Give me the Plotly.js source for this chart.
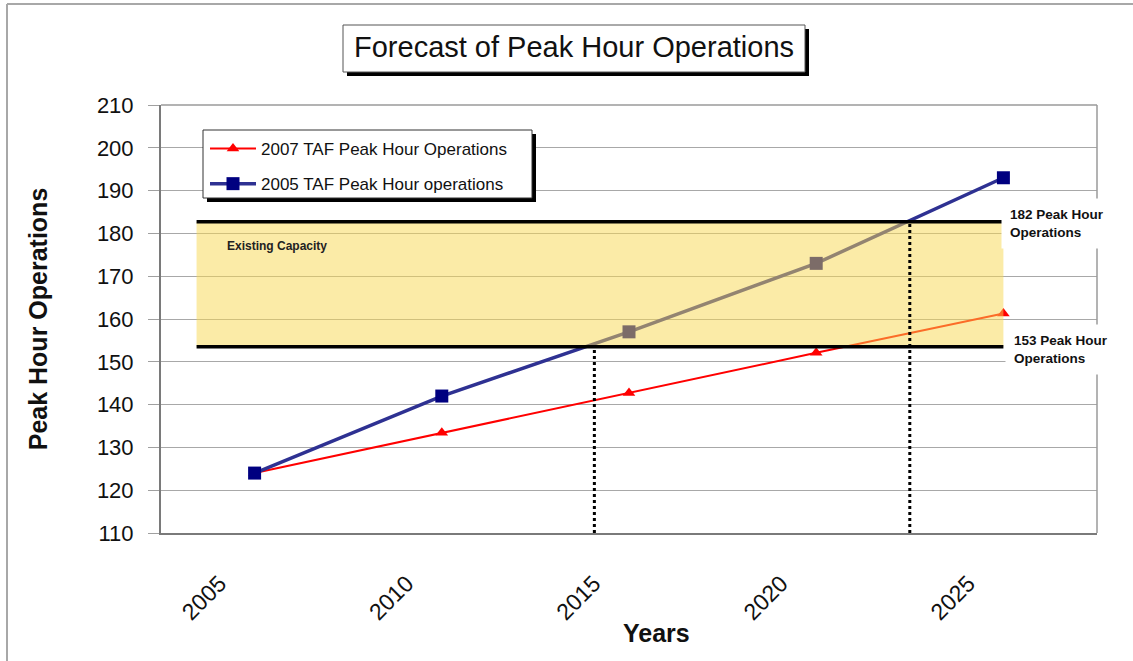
<!DOCTYPE html>
<html>
<head>
<meta charset="utf-8">
<script src="https://cdn.plot.ly/plotly-3.0.1.min.js"></script>
<style>
  html, body { margin: 0; padding: 0; background: #fff; }
  #chart { width: 1133px; height: 661px; }
</style>
</head>
<body>
<div id="chart"></div>
<script>
// ---- Data ----
var years = ['2005', '2010', '2015', '2020', '2025'];
var taf2007 = [124, 133.4, 142.7, 152.1, 161.3];
var taf2005 = [124, 142, 157, 173, 193];
var capacityLow = 153.5;
var capacityHigh = 182.7;
var crossLow = 1.815;  // category position where 2005 TAF reaches lower capacity
var crossHigh = 3.5;   // category position where 2005 TAF reaches upper capacity
var seriesNames = ['2007 TAF Peak Hour Operations', '2005 TAF Peak Hour operations'];

var FONT = 'Liberation Sans, Arial, sans-serif';

// pixel -> paper helpers (plot area: x 161..1097, y 105..533)
function px(x) { return (x - 161) / 936; }
function py(y) { return (533 - y) / 428; }

var traces = [
  {
    x: years, y: taf2007, name: seriesNames[0], type: 'scatter', mode: 'lines+markers',
    line: { color: '#FF0000', width: 2 },
    marker: { symbol: 'triangle-up', size: 11, color: '#FF0000' },
    legendgroup: 'a'
  },
  {
    x: years, y: taf2005, name: seriesNames[1], type: 'scatter', mode: 'lines+markers',
    line: { color: '#2E3192', width: 3.5 },
    marker: { symbol: 'square', size: 13, color: '#000080' },
    legendgroup: 'b'
  }
];

var shapes = [
  // outer frame (left + top)
  { type: 'line', xref: 'paper', yref: 'paper', x0: px(7), x1: px(7), y0: py(4), y1: py(661), line: { color: '#A8A8A8', width: 2 } },
  { type: 'line', xref: 'paper', yref: 'paper', x0: px(7), x1: px(1133), y0: py(4), y1: py(4), line: { color: '#A8A8A8', width: 2 } },
  // title box shadow + box
  { type: 'rect', xref: 'paper', yref: 'paper', x0: px(347), x1: px(809), y0: py(76), y1: py(29), fillcolor: '#000', line: { width: 0 } },
  { type: 'rect', xref: 'paper', yref: 'paper', x0: px(343), x1: px(805), y0: py(72), y1: py(25), fillcolor: '#fff', line: { color: '#555', width: 1 } },
  // capacity band
  { type: 'rect', xref: 'x', yref: 'y', x0: -0.31, x1: 4.0, y0: capacityLow, y1: capacityHigh, fillcolor: '#F8D850', opacity: 0.5, line: { width: 0 }, layer: 'above' },
  { type: 'line', xref: 'x', yref: 'y', x0: -0.31, x1: 4.0, y0: capacityHigh, y1: capacityHigh, line: { color: '#000', width: 3.5 }, layer: 'above' },
  { type: 'line', xref: 'x', yref: 'y', x0: -0.31, x1: 4.0, y0: capacityLow, y1: capacityLow, line: { color: '#000', width: 3.5 }, layer: 'above' },
  // dotted drop lines
  { type: 'line', xref: 'x', yref: 'y', x0: crossLow, x1: crossLow, y0: 110, y1: capacityLow, line: { color: '#000', width: 3, dash: 'dot' }, layer: 'above' },
  { type: 'line', xref: 'x', yref: 'y', x0: crossHigh, x1: crossHigh, y0: 110, y1: capacityHigh, line: { color: '#000', width: 3, dash: 'dot' }, layer: 'above' },
  // legend shadow + box
  { type: 'rect', xref: 'paper', yref: 'paper', x0: px(207), x1: px(536), y0: py(202), y1: py(134), fillcolor: '#000', line: { width: 0 }, layer: 'above' },
  { type: 'rect', xref: 'paper', yref: 'paper', x0: px(203), x1: px(532), y0: py(198), y1: py(130), fillcolor: '#fff', line: { color: '#333', width: 1 }, layer: 'above' },
  // top and right frame of plot area
  { type: 'line', xref: 'paper', yref: 'paper', x0: 0, x1: 1, y0: 1, y1: 1, line: { color: '#9A9A9A', width: 1.5 } },
  { type: 'line', xref: 'paper', yref: 'paper', x0: 1, x1: 1, y0: 0, y1: 1, line: { color: '#9A9A9A', width: 1.5 } }
];

var annotations = [
  { text: 'Forecast of Peak Hour Operations', xref: 'paper', yref: 'paper', x: px(574), y: py(47),
    xanchor: 'center', yanchor: 'middle', showarrow: false, font: { family: FONT, size: 29, color: '#111' } },
  { text: 'Years', xref: 'paper', yref: 'paper', x: px(656), y: py(633),
    xanchor: 'center', yanchor: 'middle', showarrow: false, font: { family: FONT, size: 25, color: '#111', weight: 'bold' } },
  { text: 'Existing Capacity', xref: 'paper', yref: 'paper', x: px(225), y: py(246),
    xanchor: 'left', yanchor: 'middle', showarrow: false, font: { family: FONT, size: 12, color: '#222', weight: 'bold' } },
  { text: '182 Peak Hour<br>Operations', xref: 'paper', yref: 'paper', x: px(1001), y: py(223), align: 'left',
    xanchor: 'left', yanchor: 'middle', showarrow: false, bgcolor: '#fff', borderpad: 8,
    font: { family: FONT, size: 13.5, color: '#111', weight: 'bold' } },
  { text: '153 Peak Hour<br>Operations', xref: 'paper', yref: 'paper', x: px(1005), y: py(349), align: 'left',
    xanchor: 'left', yanchor: 'middle', showarrow: false, bgcolor: '#fff', borderpad: 8,
    font: { family: FONT, size: 13.5, color: '#111', weight: 'bold' } }
];

var layout = {
  width: 1133, height: 661,
  margin: { l: 161, r: 36, t: 105, b: 128 },
  paper_bgcolor: '#fff', plot_bgcolor: '#fff',
  font: { family: FONT, color: '#111' },
  showlegend: true,
  legend: {
    x: px(205), y: py(131), xanchor: 'left', yanchor: 'top',
    bgcolor: 'rgba(0,0,0,0)', borderwidth: 0,
    font: { family: FONT, size: 17, color: '#111' },
    itemwidth: 46,
    traceorder: 'grouped', tracegroupgap: 10
  },
  xaxis: {
    type: 'category', range: [-0.5, 4.5],
    showgrid: false, zeroline: false,
    showline: true, linecolor: '#7A7A7A', linewidth: 2, mirror: false,
    ticks: '', tickangle: -45,
    tickfont: { family: FONT, size: 23, color: '#111' },
    ticklabelshift: -35, ticklabelstandoff: 26
  },
  yaxis: {
    range: [110, 210], dtick: 10, tick0: 110,
    showgrid: true, gridcolor: '#A8A8A8', gridwidth: 1, zeroline: false,
    showline: true, linecolor: '#7A7A7A', linewidth: 2, mirror: false,
    ticks: 'outside', ticklen: 11, tickcolor: '#A0A0A0', tickwidth: 1,
    tickfont: { family: FONT, size: 22, color: '#111' },
    ticklabelstandoff: 10,
    title: { text: 'Peak Hour Operations', font: { family: FONT, size: 25, color: '#111', weight: 'bold' }, standoff: 42 }
  },
  shapes: shapes,
  annotations: annotations
};

Plotly.newPlot('chart', traces, layout, { displayModeBar: false, staticPlot: true });
</script>
</body>
</html>
